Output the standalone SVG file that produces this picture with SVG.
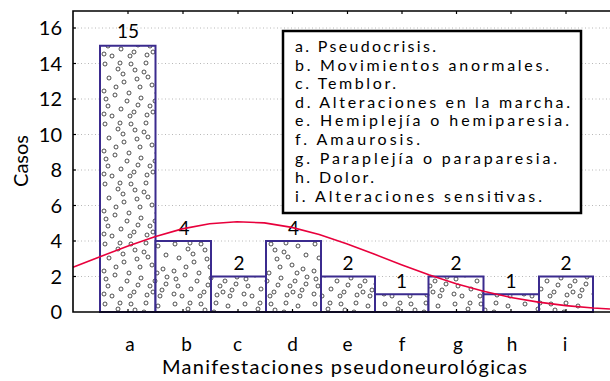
<svg xmlns="http://www.w3.org/2000/svg" width="610" height="381" viewBox="0 0 610 381">
<style>
text{font-family:Lato,"Open Sans","DejaVu Sans",sans-serif;fill:#000}
.ax{font-size:20px}
.val{font-size:19px;text-anchor:middle}
.cat{font-size:19px;text-anchor:middle}
.leg{font-size:16px}
.grid{stroke:#b8b8b8;stroke-width:1;stroke-dasharray:1 2.5;fill:none}
.axis{stroke:#000;stroke-width:1.6;fill:none}
.tick{stroke:#000;stroke-width:1.2}
.bar{fill:url(#dots);stroke:#3b2b8e;stroke-width:2}
.curve{fill:none;stroke:#e8003c;stroke-width:1.6}
</style>
<defs>
<pattern id="dots" patternUnits="userSpaceOnUse" x="100" y="0" width="70" height="60">
<rect width="70" height="60" fill="#fff"/>
<g fill="#fff" stroke="#222" stroke-width="0.8">
<circle cx="5" cy="4" r="2"/><circle cx="18" cy="9" r="2"/><circle cx="31" cy="4" r="2"/><circle cx="44" cy="12" r="2"/><circle cx="58" cy="6" r="2"/><circle cx="66" cy="15" r="2"/><circle cx="9" cy="18" r="2"/><circle cx="24" cy="22" r="2"/><circle cx="37" cy="19" r="2"/><circle cx="52" cy="25" r="2"/><circle cx="63" cy="29" r="2"/><circle cx="4" cy="31" r="2"/><circle cx="15" cy="35" r="2"/><circle cx="29" cy="33" r="2"/><circle cx="41" cy="38" r="2"/><circle cx="55" cy="41" r="2"/><circle cx="66" cy="44" r="2"/><circle cx="8" cy="46" r="2"/><circle cx="21" cy="49" r="2"/><circle cx="34" cy="52" r="2"/><circle cx="47" cy="55" r="2"/><circle cx="60" cy="56" r="2"/><circle cx="12" cy="56" r="2"/><circle cx="27" cy="41" r="2"/><circle cx="50" cy="46" r="2"/><circle cx="40" cy="27" r="2"/><circle cx="20" cy="3" r="2"/><circle cx="62" cy="50" r="2"/><circle cx="35" cy="10" r="2"/><circle cx="4" cy="54" r="2"/><circle cx="46" cy="3" r="2"/><circle cx="16" cy="27" r="2"/><circle cx="57" cy="33" r="2"/><circle cx="30" cy="56" r="2"/><circle cx="6" cy="39" r="2"/><circle cx="48" cy="17" r="2"/><circle cx="23" cy="14" r="2"/><circle cx="67" cy="37" r="2"/><circle cx="38" cy="45" r="2"/><circle cx="53" cy="52" r="2"/>
</g>
</pattern>
</defs>
<rect width="610" height="381" fill="#fff"/>
<g id="grid">
<line class="grid" x1="74" y1="276.5" x2="610" y2="276.5"/>
<line class="grid" x1="74" y1="241" x2="610" y2="241"/>
<line class="grid" x1="74" y1="205.5" x2="610" y2="205.5"/>
<line class="grid" x1="74" y1="170" x2="610" y2="170"/>
<line class="grid" x1="74" y1="134.5" x2="610" y2="134.5"/>
<line class="grid" x1="74" y1="99" x2="610" y2="99"/>
<line class="grid" x1="74" y1="63.5" x2="610" y2="63.5"/>
<line class="grid" x1="74" y1="28" x2="610" y2="28"/>
</g>
<g id="bars">
<rect id="bar-a" class="bar" x="100" y="45.75" width="55.5" height="266.25"/>
<rect id="bar-b" class="bar" x="155.5" y="241" width="55.5" height="71"/>
<rect id="bar-c" class="bar" x="211" y="276.5" width="55" height="35.5"/>
<rect id="bar-d" class="bar" x="266" y="241" width="55" height="71"/>
<rect id="bar-e" class="bar" x="321" y="276.5" width="54" height="35.5"/>
<rect id="bar-f" class="bar" x="375" y="294.25" width="53.5" height="17.75"/>
<rect id="bar-g" class="bar" x="428.5" y="276.5" width="55" height="35.5"/>
<rect id="bar-h" class="bar" x="483.5" y="294.25" width="55.5" height="17.75"/>
<rect id="bar-i" class="bar" x="539" y="276.5" width="54" height="35.5"/>
</g>
<g id="values">
<text class="val" x="128" y="38">15</text>
<text class="val" x="184" y="235">4</text>
<text class="val" x="239" y="270">2</text>
<text class="val" x="293.5" y="235">4</text>
<text class="val" x="348" y="270">2</text>
<text class="val" x="401.5" y="288">1</text>
<text class="val" x="456" y="270">2</text>
<text class="val" x="511" y="288">1</text>
<text class="val" x="566" y="270">2</text>
</g>
<g id="connectors">
<polyline class="curve" points="73,267.2 100,256.7 127.4,246.2 154.8,236.7 182.2,228.9 209.6,223.7 237,221.7 264.4,222.9 291.8,227.4 319.2,234.6 346.6,243.8 374,254.1 401.4,264.7 428.8,274.7 456.2,283.7 483.6,291.3 511,297.5 538.4,302.1 565.8,305.6 593.2,308 610,309"/>
</g>
<g id="axes">
<polyline class="axis" points="610,11 73,11 73,312 610,312"/>
<g class="tick">
<line x1="73" y1="276.5" x2="76" y2="276.5"/><line x1="73" y1="241" x2="76" y2="241"/><line x1="73" y1="205.5" x2="76" y2="205.5"/><line x1="73" y1="170" x2="76" y2="170"/><line x1="73" y1="134.5" x2="76" y2="134.5"/><line x1="73" y1="99" x2="76" y2="99"/><line x1="73" y1="63.5" x2="76" y2="63.5"/><line x1="73" y1="28" x2="76" y2="28"/>
<line x1="128" y1="312" x2="128" y2="309"/><line x1="183" y1="312" x2="183" y2="309"/><line x1="238" y1="312" x2="238" y2="309"/><line x1="292.5" y1="312" x2="292.5" y2="309"/><line x1="347.5" y1="312" x2="347.5" y2="309"/><line x1="402" y1="312" x2="402" y2="309"/><line x1="456.5" y1="312" x2="456.5" y2="309"/><line x1="511" y1="312" x2="511" y2="309"/><line x1="566" y1="312" x2="566" y2="309"/>
<line x1="128" y1="11" x2="128" y2="14"/><line x1="183" y1="11" x2="183" y2="14"/><line x1="238" y1="11" x2="238" y2="14"/><line x1="292.5" y1="11" x2="292.5" y2="14"/><line x1="347.5" y1="11" x2="347.5" y2="14"/><line x1="402" y1="11" x2="402" y2="14"/><line x1="456.5" y1="11" x2="456.5" y2="14"/><line x1="511" y1="11" x2="511" y2="14"/><line x1="566" y1="11" x2="566" y2="14"/>
</g>
<g class="ax" text-anchor="end">
<text x="62" y="319">0</text><text x="62" y="283.5">2</text><text x="62" y="248">4</text><text x="62" y="212.5">6</text><text x="62" y="177">8</text><text x="62" y="141.5">10</text><text x="62" y="106">12</text><text x="62" y="70.5">14</text><text x="62" y="35">16</text>
</g>
<text class="ax" transform="translate(28,161) rotate(-90)" text-anchor="middle">Casos</text>
<g class="cat">
<text x="130" y="350.5">a</text><text x="186.5" y="350.5">b</text><text x="237.5" y="350.5">c</text><text x="292.5" y="350.5">d</text><text x="347.5" y="350.5">e</text><text x="402" y="350.5">f</text><text x="458" y="350.5">g</text><text x="512" y="350.5">h</text><text x="565" y="350.5">i</text>
</g>
<text class="ax" x="162" y="373.5" textLength="365" lengthAdjust="spacing">Manifestaciones pseudoneurológicas</text>
</g>
<g id="legend">
<rect x="283" y="31" width="298" height="182" fill="#fff" stroke="#000" stroke-width="2.5"/>
<g class="leg">
<text x="295" y="52.3" textLength="141" lengthAdjust="spacing">a. Pseudocrisis.</text>
<text x="295" y="70.7" textLength="254" lengthAdjust="spacing">b. Movimientos anormales.</text>
<text x="295" y="89" textLength="101" lengthAdjust="spacing">c. Temblor.</text>
<text x="295" y="107.7" textLength="275" lengthAdjust="spacing">d. Alteraciones en la marcha.</text>
<text x="295" y="126.3" textLength="274" lengthAdjust="spacing">e. Hemiplejía o hemiparesia.</text>
<text x="295" y="145" textLength="125" lengthAdjust="spacing">f. Amaurosis.</text>
<text x="295" y="163.7" textLength="262" lengthAdjust="spacing">g. Paraplejía o paraparesia.</text>
<text x="295" y="182.7" textLength="79" lengthAdjust="spacing">h. Dolor.</text>
<text x="295" y="202.3" textLength="247" lengthAdjust="spacing">i. Alteraciones sensitivas.</text>
</g>
</g>
</svg>
